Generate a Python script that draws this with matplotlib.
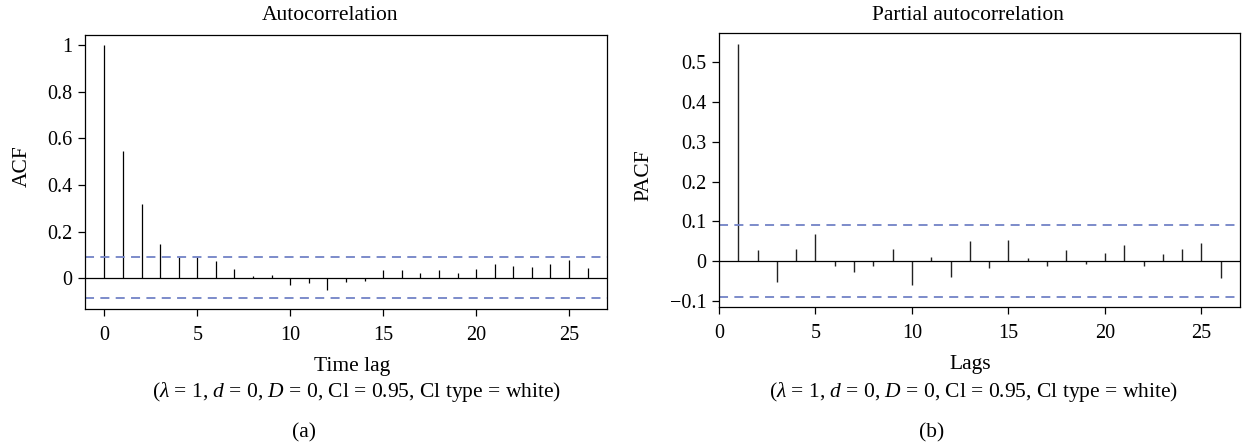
import matplotlib
matplotlib.use("Agg")
import matplotlib.pyplot as plt
import numpy as np

plt.rcParams["font.family"] = ["Liberation Serif", "DejaVu Serif"]
plt.rcParams["mathtext.fontset"] = "custom"
plt.rcParams["mathtext.rm"] = "Liberation Serif"
plt.rcParams["mathtext.it"] = "Liberation Serif:italic"

# Autocorrelation function, lags 0..26
acf_lags = list(range(0, 27))
acf_vals = [1.0, 0.546, 0.317, 0.147, 0.093, 0.091, 0.074, 0.040, 0.010, 0.016,
            -0.029, -0.021, -0.050, -0.014, -0.011, 0.036, 0.037, 0.024, 0.034,
            0.024, 0.041, 0.060, 0.053, 0.049, 0.060, 0.079, 0.044]
acf_ci = (-0.085, 0.092)

# Partial autocorrelation function, lags 1..26
pacf_lags = list(range(1, 27))
pacf_vals = [0.546, 0.028, -0.053, 0.031, 0.068, -0.013, -0.028, -0.013, 0.031,
             -0.061, 0.011, -0.040, 0.050, -0.017, 0.052, 0.007, -0.013, 0.028,
             -0.006, 0.021, 0.041, -0.012, 0.018, 0.031, 0.046, -0.042]
pacf_ci = (-0.091, 0.090)

acf_yticks = [0, 0.2, 0.4, 0.6, 0.8, 1]
acf_yticklabels = ["0", "0.2", "0.4", "0.6", "0.8", "1"]
pacf_yticks = [-0.1, 0, 0.1, 0.2, 0.3, 0.4, 0.5]
pacf_yticklabels = ["\u22120.1", "0", "0.1", "0.2", "0.3", "0.4", "0.5"]
xticks = [0, 5, 10, 15, 20, 25]

subtitle = r"($\lambda$ = 1, $d$ = 0, $D$ = 0, Cl = 0.95, Cl type = white)"

W, H = 1242, 446
fig = plt.figure(figsize=(W / 100, H / 100), dpi=100)


def px_axes(l, t, r, b):
    return fig.add_axes([l / W, 1 - b / H, (r - l) / W, (b - t) / H])


ci_color = "#7282c6"
fs = 15.5
tick_fs = 14.5


def style(ax):
    for s in ax.spines.values():
        s.set_linewidth(0.9)
        s.set_color("black")
    ax.tick_params(direction="out", length=5, width=0.9, labelsize=tick_fs,
                   pad=4, colors="black")
    ax.tick_params(axis="x", pad=7)


# (a) ACF
ax1 = px_axes(85, 35, 607, 309)
ax1.vlines(acf_lags, 0, acf_vals, color="black", lw=0.9)
ax1.axhline(0, color="black", lw=0.9)
for c in acf_ci:
    ax1.axhline(c, color=ci_color, lw=1.3, ls=(0, (5, 3.5)))
ax1.set_xlim(-1.04, 27.04)
ax1.set_ylim(-0.132, 1.044)
ax1.set_xticks(xticks)
ax1.set_yticks(acf_yticks)
ax1.set_yticklabels(acf_yticklabels)
style(ax1)

# (b) PACF
ax2 = px_axes(719, 33, 1240, 307)
ax2.vlines(pacf_lags, 0, pacf_vals, color="#222222", lw=1.0)
ax2.axhline(0, color="black", lw=0.9)
for c in pacf_ci:
    ax2.axhline(c, color=ci_color, lw=1.3, ls=(0, (5, 3.5)))
ax2.set_xlim(0, 27)
ax2.set_ylim(-0.115, 0.573)
ax2.set_xticks(xticks)
ax2.set_yticks(pacf_yticks)
ax2.set_yticklabels(pacf_yticklabels)
style(ax2)


def ftext(x, y, s, **kw):
    fig.text(x / W, 1 - y / H, s, ha="center", va="center", fontsize=fs, **kw)


ftext(330, 15, "Autocorrelation")
ftext(968, 16, "Partial autocorrelation")
ftext(22, 166, "ACF", rotation=90)
ftext(644, 175, "PACF", rotation=90)
ftext(352, 366, "Time lag")
ftext(970, 365, "Lags")
ftext(357, 392, subtitle)
ftext(974, 392, subtitle)
ftext(304, 433, "(a)")
ftext(932, 433, "(b)")

fig.savefig("out.png", dpi=100)
